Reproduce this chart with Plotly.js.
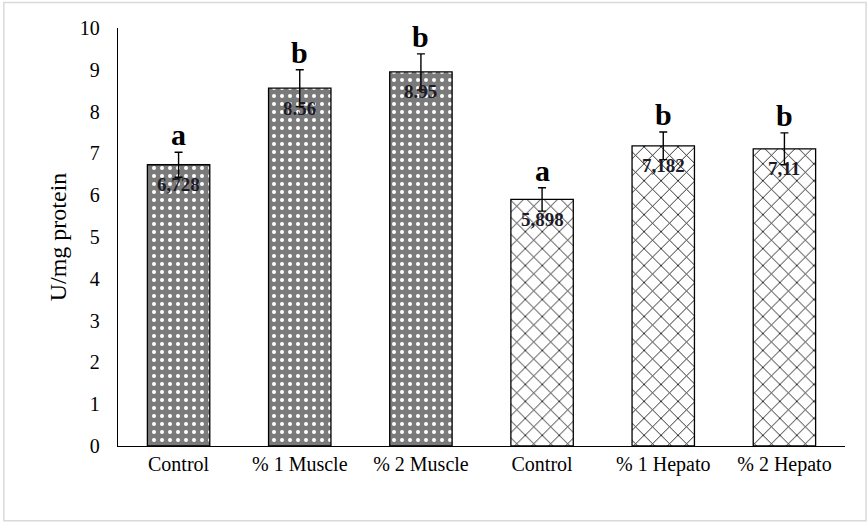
<!DOCTYPE html>
<html><head><meta charset="utf-8">
<script src="https://cdn.plot.ly/plotly-3.0.1.min.js"></script>
<style>html,body{margin:0;padding:0;background:#fff}#c{width:868px;height:524px}</style>
</head><body><div id="c"></div>
<script>
const categories = ["Control", "% 1 Muscle", "% 2 Muscle", "Control ", "% 1 Hepato", "% 2 Hepato"];
const tickLabels = ["Control", "% 1 Muscle", "% 2 Muscle", "Control", "% 1 Hepato", "% 2 Hepato"];
const values = [6.728, 8.56, 8.95, 5.898, 7.182, 7.11];
const errors = [0.30, 0.44, 0.43, 0.28, 0.33, 0.38];
const valueLabels = ["6,728", "8.56", "8.95", "5,898", "7,182", "7,11"];
const letters = ["a", "b", "b", "a", "b", "b"];
const groupMuscle = [0, 1, 2];
const groupHepato = [3, 4, 5];

const serif = "Liberation Serif, Times New Roman, serif";

function trace(idx, pattern, bg) {
  return {
    type: "bar",
    x: idx.map(i => categories[i]),
    y: idx.map(i => values[i]),
    error_y: {type: "data", array: idx.map(i => errors[i]), visible: true, color: "#000", thickness: 1.4, width: 4},
    marker: {color: bg, line: {color: "#000", width: 1.3}, pattern: pattern},
    hoverinfo: "none"
  };
}

const data = [
  trace(groupMuscle, {shape: ".", fgcolor: "#ffffff", bgcolor: "#7a7a7a", size: 8, solidity: 0.2}, "#7a7a7a"),
  trace(groupHepato, {shape: "x", fgcolor: "#000000", bgcolor: "#ffffff", size: 12, solidity: 0.13}, "#ffffff")
];

const annotations = [];
categories.forEach((c, i) => {
  annotations.push({x: c, y: values[i] + errors[i], xref: "x", yref: "y", text: "<b>" + letters[i] + "</b>",
    showarrow: false, yanchor: "bottom", yshift: -1, font: {family: serif, size: 30, color: "#000"}});
  annotations.push({x: c, y: values[i], xref: "x", yref: "y", text: "<b>" + valueLabels[i] + "</b>",
    showarrow: false, yanchor: "middle", yshift: -20, font: {family: serif, size: 19, color: "#1c1c28"}});
});

const layout = {
  width: 868, height: 524,
  margin: {l: 118, r: 23, t: 28, b: 78},
  paper_bgcolor: "#fff", plot_bgcolor: "#fff",
  showlegend: false,
  bargap: 0.485,
  font: {family: serif, color: "#000"},
  xaxis: {
    type: "category", categoryorder: "array", categoryarray: categories,
    tickvals: categories, ticktext: tickLabels,
    showline: true, linecolor: "#000", linewidth: 1.3, ticks: "", showgrid: false, zeroline: false,
    tickfont: {family: serif, size: 20, color: "#000"}
  },
  yaxis: {
    range: [0, 10], dtick: 1, showline: true, linecolor: "#000", linewidth: 1.3,
    ticks: "", showgrid: false, zeroline: false, ticklabelstandoff: 13,
    tickfont: {family: serif, size: 20, color: "#000"},
    title: {text: "U/mg protein", font: {family: serif, size: 24, color: "#000"}, standoff: 6}
  },
  annotations: annotations,
  shapes: [{type: "rect", xref: "paper", yref: "paper", x0: -0.157, x1: 1.029, y0: -0.179, y1: 1.061,
    line: {color: "#d9d9d9", width: 1.5}, fillcolor: "rgba(0,0,0,0)", layer: "below"}]
};

Plotly.newPlot("c", data, layout, {staticPlot: true, displayModeBar: false});
</script></body></html>
